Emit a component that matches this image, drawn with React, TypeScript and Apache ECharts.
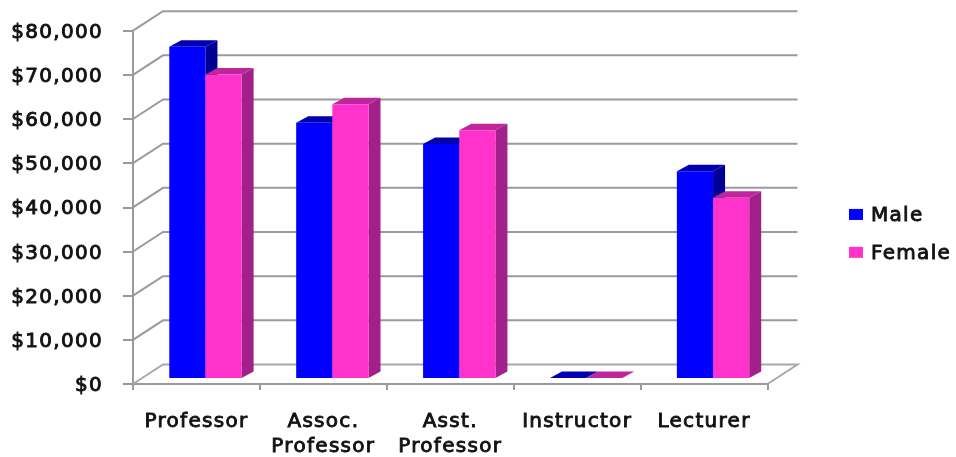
import React, { useEffect, useRef } from "react";
import * as echarts from "echarts";

const categories = ["Professor", "Assoc.\nProfessor", "Asst.\nProfessor", "Instructor", "Lecturer"];
const maleValues = [75000, 57800, 53000, 0, 46800];
const femaleValues = [68700, 62000, 56100, 0, 40800];
const wallTicks = [0, 10000, 20000, 30000, 40000, 50000, 60000, 70000, 80000];

const WALL_DX = 30;
const WALL_DY = -19.5;
const BAR_SHIFT_X = 9;
const BAR_SHIFT_Y = -6;
const BAR_DX = 12;
const BAR_DY = -6.5;
const BAR_RATIO = 0.285;
const LINE = "#9a9a9a";

function poly(points: number[][], fill: string) {
  return { type: "polygon", shape: { points }, style: { fill, stroke: null }, silent: true };
}

function barRenderer(offset: number, front: string, top: string, side: string) {
  return (_p: any, api: any) => {
    const i = api.value(0);
    const v = api.value(1);
    const [cx, y1] = api.coord([i, v]);
    const y0 = api.coord([i, 0])[1] + BAR_SHIFT_Y;
    const yt = y1 + BAR_SHIFT_Y;
    const w = api.size([1, 0])[0] * BAR_RATIO;
    const x0 = cx + BAR_SHIFT_X + offset * w;
    const x1 = x0 + w;
    const children: any[] = [
      poly([[x1, y0], [x1 + BAR_DX, y0 + BAR_DY], [x1 + BAR_DX, yt + BAR_DY], [x1, yt]], side),
      poly([[x0, yt], [x1, yt], [x1 + BAR_DX, yt + BAR_DY], [x0 + BAR_DX, yt + BAR_DY]], top),
    ];
    if (v > 0) children.push(poly([[x0, yt], [x1, yt], [x1, y0], [x0, y0]], front));
    else children.shift();
    return { type: "group", children };
  };
}

export default function App() {
  const ref = useRef<HTMLDivElement>(null);
  useEffect(() => {
    const chart = echarts.init(ref.current!, null, { renderer: "svg" });
    const font = {
      fontFamily: "DejaVu Sans",
      color: "#111",
      fontWeight: "normal" as const,
      fontSize: 20,
      textBorderColor: "#111",
      textBorderWidth: 0.9,
    };
    chart.setOption({
      animation: false,
      backgroundColor: "#fff",
      legend: {
        orient: "vertical",
        left: 849,
        top: 204,
        padding: 0,
        itemWidth: 14,
        itemHeight: 11,
        itemGap: 17,
        icon: "rect",
        data: ["Male", "Female"],
        textStyle: { ...font, padding: [0, 0, 0, 3] },
      },
      grid: { left: 133, right: 188.5, top: 30.7, bottom: 69.5, containLabel: false },
      xAxis: {
        type: "category",
        data: categories,
        axisLine: { show: true, lineStyle: { color: LINE, width: 2 } },
        axisTick: { show: true, length: 6, lineStyle: { color: LINE, width: 2 } },
        axisLabel: { ...font, lineHeight: 25, margin: 23, interval: 0 },
      },
      yAxis: {
        type: "value",
        min: 0,
        max: 80000,
        interval: 10000,
        splitLine: { show: false },
        axisLine: { show: true, lineStyle: { color: LINE, width: 2 } },
        axisTick: { show: true, length: 10, lineStyle: { color: LINE, width: 2 } },
        axisLabel: {
          ...font,
          margin: 30,
          formatter: (v: number) => "$" + v.toLocaleString("en-US"),
        },
      },
      series: [
        {
          type: "custom",
          name: "wall",
          silent: true,
          data: wallTicks.map((v) => [0, v]),
          encode: { x: 0, y: 1 },
          renderItem: (p: any, api: any) => {
            const y = api.coord([0, api.value(1)])[1];
            const x = p.coordSys.x;
            const xr = x + p.coordSys.width;
            const pts = [[x, y], [x + WALL_DX, y + WALL_DY], [xr + WALL_DX, y + WALL_DY]];
            const floor = api.value(1) === 0;
            if (floor) pts.push([xr, y]);
            return {
              type: "polyline",
              shape: { points: pts },
              style: { fill: null, stroke: floor ? "#a8a8a8" : LINE, lineWidth: 2 },
            };
          },
        },
        {
          type: "custom",
          name: "Male",
          itemStyle: { color: "#0000ff" },
          data: maleValues.map((v, i) => [i, v]),
          encode: { x: 0, y: 1 },
          renderItem: barRenderer(-1, "#0000ff", "#0000b0", "#000096"),
        },
        {
          type: "custom",
          name: "Female",
          itemStyle: { color: "#ff33cc" },
          data: femaleValues.map((v, i) => [i, v]),
          encode: { x: 0, y: 1 },
          renderItem: barRenderer(0, "#ff33cc", "#c0269b", "#a3208a"),
        },
      ],
    });
    return () => chart.dispose();
  }, []);
  return (
    <div
      ref={ref}
      style={{
        position: "absolute",
        left: 0,
        top: 0,
        width: 956,
        height: 457,
        letterSpacing: "1.3px",
        filter: "blur(0.4px)",
      }}
    />
  );
}
